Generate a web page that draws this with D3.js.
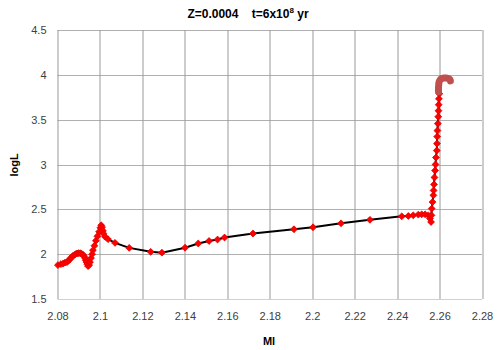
<!DOCTYPE html>
<html>
<head>
<meta charset="utf-8">
<script src="https://cdn.jsdelivr.net/npm/d3@7"></script>
<style>
  body { margin: 0; background: #fff; }
  svg text { font-family: "Liberation Sans", Arial, sans-serif; }
</style>
</head>
<body>
<div id="chart"></div>
<script>
// Track data (Ml, logL)
var mlValues = [2.0802, 2.0816, 2.0826, 2.0835, 2.0845, 2.0852, 2.0859, 2.0864, 2.0871, 2.0878,
    2.0885, 2.0892, 2.0899, 2.0906, 2.0913, 2.0920, 2.0925, 2.0930, 2.0933, 2.0937,
    2.0940, 2.0944, 2.0949, 2.0953, 2.0958, 2.0963, 2.0967, 2.0974, 2.0981, 2.0988,
    2.0996, 2.1002, 2.1006, 2.1010, 2.1014, 2.1017, 2.1024, 2.1038, 2.1071, 2.1138,
    2.1239, 2.1292, 2.1401, 2.1463, 2.1514, 2.1554, 2.1587, 2.1721, 2.1914, 2.2004,
    2.2136, 2.2272, 2.2422, 2.2453, 2.2476, 2.2500, 2.2516, 2.2532, 2.2547, 2.2555,
    2.2560, 2.2562, 2.2563, 2.2567, 2.2571, 2.2572, 2.2574, 2.2576, 2.2579, 2.2581,
    2.2583, 2.2587, 2.2588, 2.2589, 2.2590, 2.2592, 2.2594, 2.2595, 2.2596, 2.2597,
    2.2599];
var logLValues = [1.878, 1.889, 1.894, 1.906, 1.911, 1.928, 1.944, 1.961, 1.978, 1.989,
    2.000, 2.008, 2.011, 2.011, 2.006, 1.994, 1.978, 1.956, 1.933, 1.911,
    1.889, 1.867, 1.878, 1.911, 1.956, 2.000, 2.044, 2.094, 2.150, 2.200,
    2.250, 2.294, 2.322, 2.300, 2.261, 2.228, 2.194, 2.167, 2.126, 2.070,
    2.026, 2.017, 2.072, 2.119, 2.147, 2.163, 2.186, 2.230, 2.278, 2.300,
    2.344, 2.383, 2.422, 2.426, 2.433, 2.441, 2.444, 2.444, 2.433, 2.397,
    2.359, 2.433, 2.508, 2.581, 2.656, 2.711, 2.778, 2.856, 2.933, 3.000,
    3.078, 3.156, 3.233, 3.311, 3.378, 3.456, 3.533, 3.600, 3.667, 3.733,
    3.789];

// Later phase, drawn as a dense brownish hook at the top
var mlTop = [2.2595, 2.2595, 2.2596, 2.2598, 2.2603, 2.2608, 2.2614, 2.2620, 2.2626, 2.2632, 2.2638, 2.2644, 2.2649, 2.2651];
var logLTop = [3.811, 3.850, 3.889, 3.922, 3.944, 3.956, 3.961, 3.964, 3.964, 3.964, 3.961, 3.956, 3.947, 3.933];

var xTicks = [2.08, 2.1, 2.12, 2.14, 2.16, 2.18, 2.2, 2.22, 2.24, 2.26, 2.28];
var yTicks = [1.5, 2, 2.5, 3, 3.5, 4, 4.5];

var svgWidth = 500;
var svgHeight = 350;

var margin = {top: 30, right: 18, bottom: 51, left: 57.5};
var width = svgWidth - margin.left - margin.right;
var height = svgHeight - margin.top - margin.bottom;

var svg = d3.select("#chart")
    .append("svg")
    .attr("width", svgWidth)
    .attr("height", svgHeight);

var chartGroup = svg.append("g")
    .attr("transform", `translate(${margin.left}, ${margin.top})`);

var xScale = d3.scaleLinear().domain([2.08, 2.28]).range([0, width]);
var yScale = d3.scaleLinear().domain([1.5, 4.5]).range([height, 0]);

// Gridlines
chartGroup.append("g")
    .selectAll("line")
    .data(yTicks)
    .enter()
    .append("line")
    .attr("x1", 0)
    .attr("x2", width)
    .attr("y1", d => Math.round(yScale(d)) + 0.5)
    .attr("y2", d => Math.round(yScale(d)) + 0.5)
    .attr("stroke", d => d === 1.5 ? "#d0d0d0" : "#b0b0b0")
    .attr("stroke-width", 1);

chartGroup.append("g")
    .selectAll("line")
    .data(xTicks)
    .enter()
    .append("line")
    .attr("x1", d => Math.round(xScale(d)) + 0.5)
    .attr("x2", d => Math.round(xScale(d)) + 0.5)
    .attr("y1", 0)
    .attr("y2", height)
    .attr("stroke", "#999")
    .attr("stroke-width", 1);

// Axes (labels only)
var bottomAxis = d3.axisBottom(xScale).tickValues(xTicks).tickSize(0).tickPadding(13)
    .tickFormat(d3.format("~g"));
var leftAxis = d3.axisLeft(yScale).tickValues(yTicks).tickSize(0).tickPadding(11)
    .tickFormat(d3.format("~g"));

var xAxisG = chartGroup.append("g")
    .attr("transform", `translate(0, ${height})`)
    .call(bottomAxis);
var yAxisG = chartGroup.append("g").call(leftAxis);

[xAxisG, yAxisG].forEach(g => {
    g.select(".domain").remove();
    g.selectAll("text")
        .attr("font-size", "11px")
        .attr("fill", "#404040")
        .style("font-family", "'Liberation Sans', Arial, sans-serif");
});

// Track line
var track = mlValues.map((m, i) => ({m: m, l: logLValues[i]}));
var topTrack = mlTop.map((m, i) => ({m: m, l: logLTop[i]}));

var line = d3.line()
    .x(d => xScale(d.m))
    .y(d => yScale(d.l));

chartGroup.append("path")
    .datum(track)
    .attr("fill", "none")
    .attr("stroke", "#000")
    .attr("stroke-width", 2)
    .attr("d", line);

// Markers
var marker = d3.symbol().type(d3.symbolDiamond2).size(30);
chartGroup.append("g")
    .selectAll("path")
    .data(track)
    .enter()
    .append("path")
    .attr("transform", d => `translate(${xScale(d.m)}, ${yScale(d.l)})`)
    .attr("d", marker)
    .attr("fill", "#ff0000")
    .attr("stroke", "#e00000")
    .attr("stroke-width", 0.8);

// Top hook
chartGroup.append("path")
    .datum(topTrack)
    .attr("fill", "none")
    .attr("stroke", "#c0504d")
    .attr("stroke-width", 7)
    .attr("stroke-linecap", "round")
    .attr("stroke-linejoin", "round")
    .attr("d", line.curve(d3.curveCatmullRom));

// Title
var title = svg.append("text")
    .attr("x", 248)
    .attr("y", 18)
    .attr("text-anchor", "middle")
    .attr("font-size", "12px")
    .attr("font-weight", "bold")
    .attr("fill", "#000");
title.append("tspan").text("Z=0.0004\u00a0\u00a0\u00a0\u00a0t=6x10");
title.append("tspan").attr("dy", -5).attr("font-size", "8px").text("8");
title.append("tspan").attr("dy", 5).text(" yr");

// Axis titles
svg.append("text")
    .attr("x", 269)
    .attr("y", 345)
    .attr("text-anchor", "middle")
    .attr("font-size", "11px")
    .attr("font-weight", "bold")
    .text("Ml");

svg.append("text")
    .attr("transform", "translate(18, 165) rotate(-90)")
    .attr("text-anchor", "middle")
    .attr("font-size", "11px")
    .attr("font-weight", "bold")
    .text("logL");
</script>
</body>
</html>
